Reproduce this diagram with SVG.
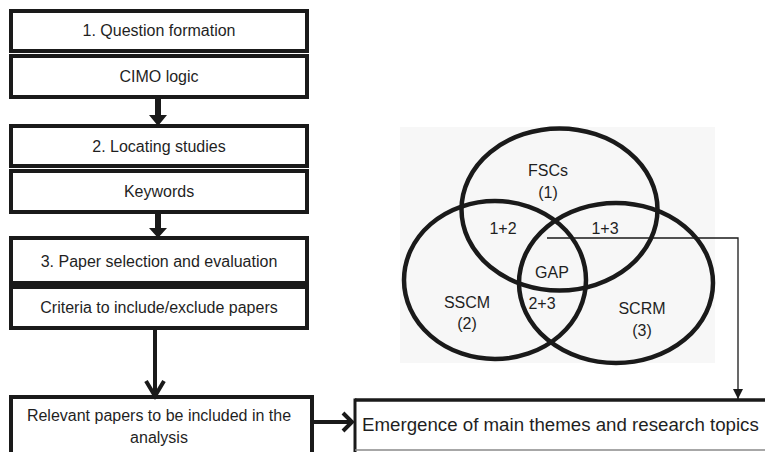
<svg xmlns="http://www.w3.org/2000/svg" width="765" height="452" viewBox="0 0 765 452">
<style>
  .box { fill: #ffffff; stroke: #1a1a1a; stroke-width: 4; }
  .t { font-family: "Liberation Sans", Arial, sans-serif; font-size: 16px; fill: #1f1f1f; text-anchor: middle; }
  .big { font-family: "Liberation Sans", Arial, sans-serif; font-size: 18.7px; fill: #1f1f1f; }
  .ring { fill: none; stroke: #1a1a1a; stroke-width: 4.5; }
  .thickline { fill: none; stroke: #1a1a1a; stroke-width: 4; }
  .thin { fill: none; stroke: #1a1a1a; stroke-width: 1.3; }
</style>
<defs>
  <marker id="tri" viewBox="0 0 10 10" refX="10" refY="5" markerWidth="10" markerHeight="10" markerUnits="userSpaceOnUse" orient="auto">
    <path d="M0,0 L10,5 L0,10 Z" fill="#1a1a1a"/>
  </marker>
</defs>
<rect x="0" y="0" width="765" height="452" fill="#ffffff"/>

<g id="step1">
  <rect class="box" x="11" y="11" width="296" height="40"/>
  <text class="t" x="159" y="36">1. Question formation</text>
</g>
<g id="cimo">
  <rect class="box" x="11" y="56" width="296" height="41"/>
  <text class="t" x="159" y="82">CIMO logic</text>
</g>
<g id="step2">
  <rect class="box" x="11" y="126" width="296" height="40"/>
  <text class="t" x="159" y="152">2. Locating studies</text>
</g>
<g id="keywords">
  <rect class="box" x="11" y="171" width="296" height="41"/>
  <text class="t" x="159" y="197">Keywords</text>
</g>
<g id="step3">
  <rect class="box" x="11" y="238" width="296" height="45"/>
  <text class="t" x="159" y="267">3. Paper selection and evaluation</text>
</g>
<g id="criteria">
  <rect class="box" x="11" y="287" width="296" height="41"/>
  <text class="t" x="159" y="313">Criteria to include/exclude papers</text>
</g>
<g id="relevant">
  <rect class="box" x="11" y="397" width="301" height="62"/>
  <text class="t" x="159" y="421">Relevant papers to be included in the</text>
  <text class="t" x="159" y="443">analysis</text>
</g>
<g id="emergence">
  <rect x="355" y="400" width="415" height="50" fill="#ffffff"/>
  <path d="M355,400 H770" stroke="#1a1a1a" stroke-width="3.5" fill="none"/>
  <path d="M355,398.5 V452" stroke="#1a1a1a" stroke-width="3" fill="none"/>
  <path d="M355,450 H770" stroke="#8a8a8a" stroke-width="1.5" fill="none"/>
  <text class="big" x="362" y="431">Emergence of main themes and research topics</text>
</g>

<g id="venn">
  <rect x="400" y="127" width="315" height="236" fill="#f7f7f7"/>
  <ellipse class="ring" cx="559.5" cy="209.5" rx="98" ry="81"/>
  <ellipse class="ring" cx="495" cy="280" rx="91" ry="79"/>
  <ellipse class="ring" cx="616" cy="283" rx="97" ry="80"/>
  <text class="t" x="548" y="176">FSCs</text>
  <text class="t" x="548" y="198">(1)</text>
  <text class="t" x="503" y="234">1+2</text>
  <text class="t" x="605" y="234">1+3</text>
  <text class="t" x="552" y="278">GAP</text>
  <text class="t" x="467" y="308">SSCM</text>
  <text class="t" x="467" y="329">(2)</text>
  <text class="t" x="542" y="309">2+3</text>
  <text class="t" x="642" y="314">SCRM</text>
  <text class="t" x="642" y="336">(3)</text>
</g>

<g id="connectors">
  <path d="M155,97 H161 V115 H167 L158,126 L149,115 H155 Z" fill="#1a1a1a"/>
  <path d="M155,212 H161 V228 H167 L158,238 L149,228 H155 Z" fill="#1a1a1a"/>
  <path class="thickline" d="M155,328 V395"/>
  <path class="thickline" d="M146,381 L155,396 L164,381"/>
  <path class="thickline" d="M312,422 H351"/>
  <path class="thickline" d="M343,413 L352,422 L343,431"/>
  <path class="thin" d="M547,238 H738 V399" marker-end="url(#tri)"/>
</g>
</svg>
